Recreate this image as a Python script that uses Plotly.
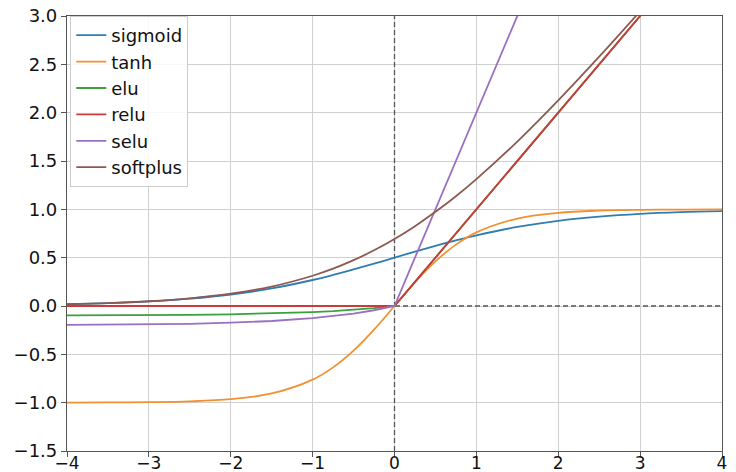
import plotly.graph_objects as go

x_vals = [-4, -3.5, -3, -2.5, -2, -1.5, -1, -0.75, -0.5, -0.25, 0,
          0.25, 0.5, 0.75, 1, 1.5, 2, 2.5, 3, 3.5, 4]

sigmoid = [0.018, 0.029, 0.047, 0.076, 0.119, 0.182, 0.269, 0.321, 0.378, 0.438, 0.5,
           0.562, 0.622, 0.679, 0.731, 0.818, 0.881, 0.924, 0.953, 0.971, 0.982]
tanh = [-0.999, -0.998, -0.995, -0.987, -0.964, -0.905, -0.762, -0.635, -0.462, -0.245, 0.0,
        0.245, 0.462, 0.635, 0.762, 0.905, 0.964, 0.987, 0.995, 0.998, 0.999]
elu = [-0.098, -0.097, -0.095, -0.092, -0.086, -0.078, -0.063, -0.053, -0.039, -0.022, 0.0,
       0.25, 0.5, 0.75, 1.0, 1.5, 2.0, 2.5, 3.0, 3.5, 4.0]
relu = [0, 0, 0, 0, 0, 0, 0, 0, 0, 0, 0,
        0.25, 0.5, 0.75, 1.0, 1.5, 2.0, 2.5, 3.0, 3.5, 4.0]
selu = [-0.196, -0.194, -0.190, -0.184, -0.173, -0.155, -0.126, -0.106, -0.079, -0.044, 0.0,
        0.5, 1.0, 1.5, 2.0, 3.0, 4.0, 5.0, 6.0, 7.0, 8.0]
softplus = [0.018, 0.030, 0.049, 0.079, 0.127, 0.201, 0.313, 0.386, 0.474, 0.576, 0.693,
            0.826, 0.974, 1.136, 1.313, 1.701, 2.127, 2.579, 3.049, 3.530, 4.018]

names = ["sigmoid", "tanh", "elu", "relu", "selu", "softplus"]
series = [sigmoid, tanh, elu, relu, selu, softplus]
colors = ["#2f7db3", "#f39030", "#3aa03a", "#cc3a3a", "#9a70c0", "#8c5a50"]
shapes_kind = ["spline", "spline", "linear", "linear", "linear", "spline"]

x_ticks = [-4, -3, -2, -1, 0, 1, 2, 3, 4]
y_ticks = [-1.5, -1.0, -0.5, 0.0, 0.5, 1.0, 1.5, 2.0, 2.5, 3.0]
x_range = [-4, 4]
y_range = [-1.5, 3.0]

fig = go.Figure()
for n, s, c, k in zip(names, series, colors, shapes_kind):
    fig.add_trace(go.Scatter(x=x_vals, y=s, name=n, mode="lines",
                             line=dict(color=c, width=1.8, shape=k)))

fig.add_shape(type="line", xref="x", yref="y", x0=0, x1=0, y0=y_range[0], y1=y_range[1],
              line=dict(color="#555555", width=1.3, dash="5px,3px"), layer="between")
fig.add_shape(type="line", xref="x", yref="y", x0=x_range[0], x1=x_range[1], y0=0, y1=0,
              line=dict(color="#555555", width=1.3, dash="5px,3px"), layer="between")

axis_common = dict(showgrid=True, gridcolor="#d0d0d0", gridwidth=1, automargin=False,
                   zeroline=False, showline=True, linecolor="#555555", linewidth=1.2,
                   mirror=True, ticks="outside", ticklen=5, tickcolor="#555555")

fig.update_xaxes(range=x_range, tickvals=x_ticks, tickformat="d",
                 ticklabelstandoff=-9,
                 tickfont=dict(family="DejaVu Sans", size=17, color="#111111"),
                 **axis_common)
fig.update_yaxes(range=y_range, tickvals=y_ticks, tickformat=".1f",
                 tickfont=dict(family="DejaVu Sans", size=18, color="#111111"),
                 **axis_common)

fig.update_layout(
    width=736, height=472,
    margin=dict(l=67, r=14, t=16, b=21),
    plot_bgcolor="white", paper_bgcolor="white",
    font=dict(family="DejaVu Sans", size=18, color="#111111"),
    legend=dict(x=0.005, y=1.0, xanchor="left", yanchor="top",
                bgcolor="rgba(255,255,255,0.85)", bordercolor="#cccccc", borderwidth=1,
                font=dict(family="DejaVu Sans", size=18, color="#111111"),
                itemwidth=30, tracegroupgap=0),
    showlegend=True,
)

fig.write_html("out.html")
